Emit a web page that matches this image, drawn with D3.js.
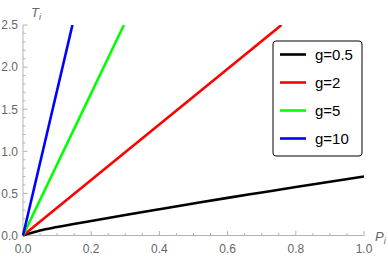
<!DOCTYPE html>
<html>
<head>
<meta charset="utf-8">
<script src="https://cdn.jsdelivr.net/npm/d3@7"></script>
<style>
  body { margin: 0; background: #fff; }
  svg { display: block; font-family: "Liberation Sans", Arial, sans-serif; }
</style>
</head>
<body>
<div id="chart"></div>
<script>
// data
const seriesNames = ["g=0.5", "g=2", "g=5", "g=10"];
const seriesColors = ["#000000", "#ff0000", "#00ff00", "#0000ff"];
const pBlack = [0, 0.01, 0.05, 0.1, 0.2, 0.3, 0.4, 0.5, 0.6, 0.7, 0.8, 0.9, 1.0];
const tBlack = [0, 0.014, 0.06, 0.10, 0.172, 0.243, 0.312, 0.38, 0.447, 0.511, 0.575, 0.638, 0.70];
const pRed = [0, 0.758];
const tRed = [0, 2.5];
const pGreen = [0, 0.296];
const tGreen = [0, 2.5];
const pBlue = [0, 0.145];
const tBlue = [0, 2.5];
const xTicks = [0, 0.2, 0.4, 0.6, 0.8, 1.0];
const yTicks = [0, 0.5, 1.0, 1.5, 2.0, 2.5];

const width = 388, height = 256;
const svg = d3.select("#chart").append("svg")
    .attr("width", width)
    .attr("height", height);

const x = d3.scaleLinear().domain([0, 1]).range([23, 364]);
const y = d3.scaleLinear().domain([0, 2.5]).range([235.5, 25]);

const axisColor = "#b3b3b3";
const labelColor = "#666666";

// x axis, ticks pointing up into the plot
const xAxis = svg.append("g").attr("transform", "translate(0," + y(0) + ")");
xAxis.append("line")
    .attr("x1", x(0)).attr("x2", x(1))
    .attr("stroke", axisColor).attr("stroke-width", 1);
xAxis.selectAll(".minor")
    .data(d3.range(0, 1.0001, 0.05))
    .join("line")
    .attr("x1", d => x(d)).attr("x2", d => x(d))
    .attr("y1", 0)
    .attr("y2", d => xTicks.some(t => Math.abs(t - d) < 1e-6) ? -4.5 : -2.5)
    .attr("stroke", axisColor);
xAxis.selectAll("text")
    .data(xTicks)
    .join("text")
    .attr("x", d => x(d))
    .attr("y", 17)
    .attr("text-anchor", "middle")
    .attr("fill", labelColor)
    .attr("font-size", 12)
    .text(d => d3.format(".1f")(d));

// y axis, ticks pointing right into the plot
const yAxis = svg.append("g").attr("transform", "translate(" + x(0) + ",0)");
yAxis.append("line")
    .attr("y1", y(0)).attr("y2", y(2.5))
    .attr("stroke", axisColor).attr("stroke-width", 1);
yAxis.selectAll(".minor")
    .data(d3.range(0, 2.5001, 0.1))
    .join("line")
    .attr("y1", d => y(d)).attr("y2", d => y(d))
    .attr("x1", 0)
    .attr("x2", d => yTicks.some(t => Math.abs(t - d) < 1e-6) ? 4.5 : 2.5)
    .attr("stroke", axisColor);
yAxis.selectAll("text")
    .data(yTicks)
    .join("text")
    .attr("x", -5)
    .attr("y", d => y(d))
    .attr("dy", "0.36em")
    .attr("text-anchor", "end")
    .attr("fill", labelColor)
    .attr("font-size", 12)
    .text(d => d3.format(".1f")(d));

// axis titles
const tLabel = svg.append("text")
    .attr("x", 31).attr("y", 17)
    .attr("fill", labelColor)
    .attr("font-size", 13)
    .attr("font-style", "italic");
tLabel.append("tspan").text("T");
tLabel.append("tspan").attr("font-size", 9).attr("dy", 3).text("i");

const pLabel = svg.append("text")
    .attr("x", 375).attr("y", 241)
    .attr("fill", labelColor)
    .attr("font-size", 13)
    .attr("font-style", "italic");
pLabel.append("tspan").text("P");
pLabel.append("tspan").attr("font-size", 9).attr("dy", 3).text("i");

// curves
const line = d3.line()
    .x(d => x(d[0]))
    .y(d => y(d[1]))
    .curve(d3.curveMonotoneX);
const series = [
    d3.zip(pBlack, tBlack),
    d3.zip(pRed, tRed),
    d3.zip(pGreen, tGreen),
    d3.zip(pBlue, tBlue)
];
svg.append("clipPath").attr("id", "plotClip")
    .append("rect")
    .attr("x", x(0) - 2).attr("y", y(2.5))
    .attr("width", x(1) - x(0) + 4).attr("height", y(0) - y(2.5) + 2);
svg.append("g").attr("clip-path", "url(#plotClip)")
    .selectAll("path")
    .data(series)
    .join("path")
    .attr("d", line)
    .attr("fill", "none")
    .attr("stroke", (d, i) => seriesColors[i])
    .attr("stroke-width", 2.6)
    .attr("stroke-linejoin", "round");

// legend
const legend = svg.append("g").attr("transform", "translate(273,41)");
legend.append("rect")
    .attr("x", 0).attr("y", 0)
    .attr("width", 89).attr("height", 115)
    .attr("rx", 3).attr("ry", 3)
    .attr("fill", "#fff")
    .attr("stroke", "#000")
    .attr("stroke-width", 1);
const entries = legend.selectAll(".entry")
    .data(seriesNames)
    .join("g")
    .attr("transform", (d, i) => "translate(0," + (13.5 + i * 28) + ")");
entries.append("line")
    .attr("x1", 7).attr("x2", 33)
    .attr("stroke", (d, i) => seriesColors[i])
    .attr("stroke-width", 2.6);
entries.append("text")
    .attr("x", 42)
    .attr("dy", "0.36em")
    .attr("font-size", 15)
    .attr("fill", "#000")
    .text(d => d);
</script>
</body>
</html>
